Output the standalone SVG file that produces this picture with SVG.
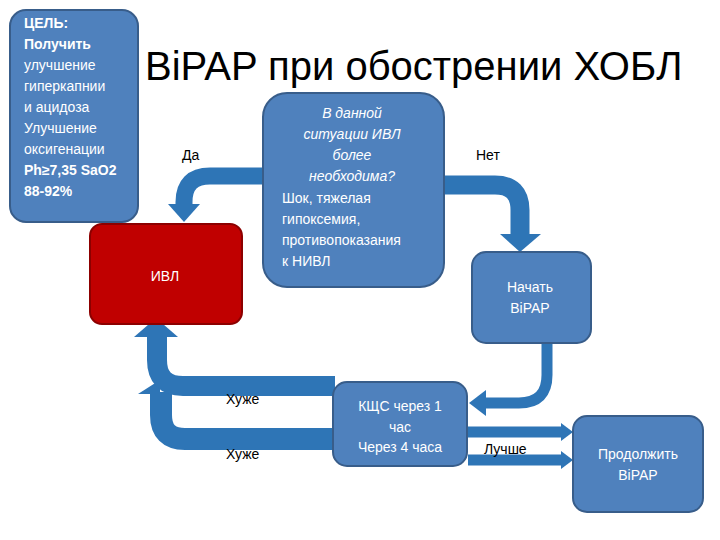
<svg xmlns="http://www.w3.org/2000/svg" width="720" height="540" viewBox="0 0 720 540">
<style>
.box{fill:#4F81BD;stroke:#385D8A;stroke-width:2}
.red{fill:#C00000;stroke:#8C0000;stroke-width:2}
.t{font-family:"Liberation Sans",Arial,sans-serif;font-size:14px;fill:#fff}
.l{font-family:"Liberation Sans",Arial,sans-serif;font-size:14px;fill:#000}
.band{fill:none;stroke:#2E75B6}
.head{fill:#2E75B6}
</style>
<rect width="720" height="540" fill="#fff"/>
<g id="connectors">
<path class="band" stroke-width="17" d="M265,176 H210 Q184,176 184,202 V206"/>
<polygon class="head" points="168,204 200,204 184,222"/>
<path class="band" stroke-width="19" d="M442,185 H495 Q520,185 520,210 V236"/>
<polygon class="head" points="500,234 541,234 520,252"/>
<path class="band" stroke-width="11" d="M547,343 V375 Q547,403 519,403 H484"/>
<polygon class="head" points="486,390 486,416 469,403"/>
<path class="band" stroke-width="11" d="M468,432 H562"/>
<polygon class="head" points="561,423 561,441 573,432"/>
<path class="band" stroke-width="11" d="M468,460 H562"/>
<polygon class="head" points="561,451 561,469 573,460"/>
<path class="band" stroke-width="22" d="M335,439 H185 Q161,439 161,415 V392"/>
<polygon class="head" points="138,394 160,380 160,394"/>
<path class="band" stroke-width="20" d="M335,386 H183 Q157,386 157,360 V334"/>
<polygon class="head" points="134,337 178,337 156,318"/>
</g>
<g id="goal"><rect class="box" x="10" y="10" width="128" height="212" rx="16"/>
<text class="t" x="24" y="28" font-weight="bold">ЦЕЛЬ:</text>
<text class="t" x="24" y="49" font-weight="bold">Получить</text>
<text class="t" x="24" y="70">улучшение</text>
<text class="t" x="24" y="91">гиперкапнии</text>
<text class="t" x="24" y="112">и ацидоза</text>
<text class="t" x="24" y="133">Улучшение</text>
<text class="t" x="24" y="154">оксигенации</text>
<text class="t" x="24" y="175" font-weight="bold">Ph≥7,35 SaO2</text>
<text class="t" x="24" y="196" font-weight="bold">88-92%</text></g>
<text x="145" y="80" font-family="Liberation Sans,Arial,sans-serif" font-size="40" fill="#000">BiPAP при обострении ХОБЛ</text>
<g id="decision"><rect class="box" x="263" y="93" width="181" height="194" rx="24"/>
<g class="t" text-anchor="middle" font-style="italic"><text class="t" x="352" y="118">В данной</text><text class="t" x="352" y="139">ситуации ИВЛ</text><text class="t" x="352" y="160">более</text><text class="t" x="352" y="181">необходима?</text></g>
<text class="t" x="282" y="203">Шок, тяжелая</text><text class="t" x="282" y="224">гипоксемия,</text><text class="t" x="282" y="245">противопоказания</text><text class="t" x="282" y="266">к НИВЛ</text></g>
<g id="ivl"><rect class="red" x="90" y="224" width="152" height="100" rx="12"/><text class="t" x="165" y="281" text-anchor="middle">ИВЛ</text></g>
<g id="start"><rect class="box" x="472" y="252" width="119" height="91" rx="14"/><text class="t" x="530" y="292" text-anchor="middle">Начать</text><text class="t" x="530" y="313" text-anchor="middle">BiPAP</text></g>
<g id="kshs"><rect class="box" x="333" y="382" width="134" height="84" rx="14"/><text class="t" x="400" y="411" text-anchor="middle">КЩС через 1</text><text class="t" x="400" y="432" text-anchor="middle">час</text><text class="t" x="400" y="452" text-anchor="middle">Через 4 часа</text></g>
<g id="continue"><rect class="box" x="573" y="416" width="130" height="96" rx="14"/><text class="t" x="638" y="459" text-anchor="middle">Продолжить</text><text class="t" x="638" y="480" text-anchor="middle">BiPAP</text></g>
<text class="l" x="182" y="160">Да</text>
<text class="l" x="476" y="160">Нет</text>
<text class="l" x="226" y="404">Хуже</text>
<text class="l" x="226" y="459">Хуже</text>
<text class="l" x="484" y="454">Лучше</text>
</svg>
